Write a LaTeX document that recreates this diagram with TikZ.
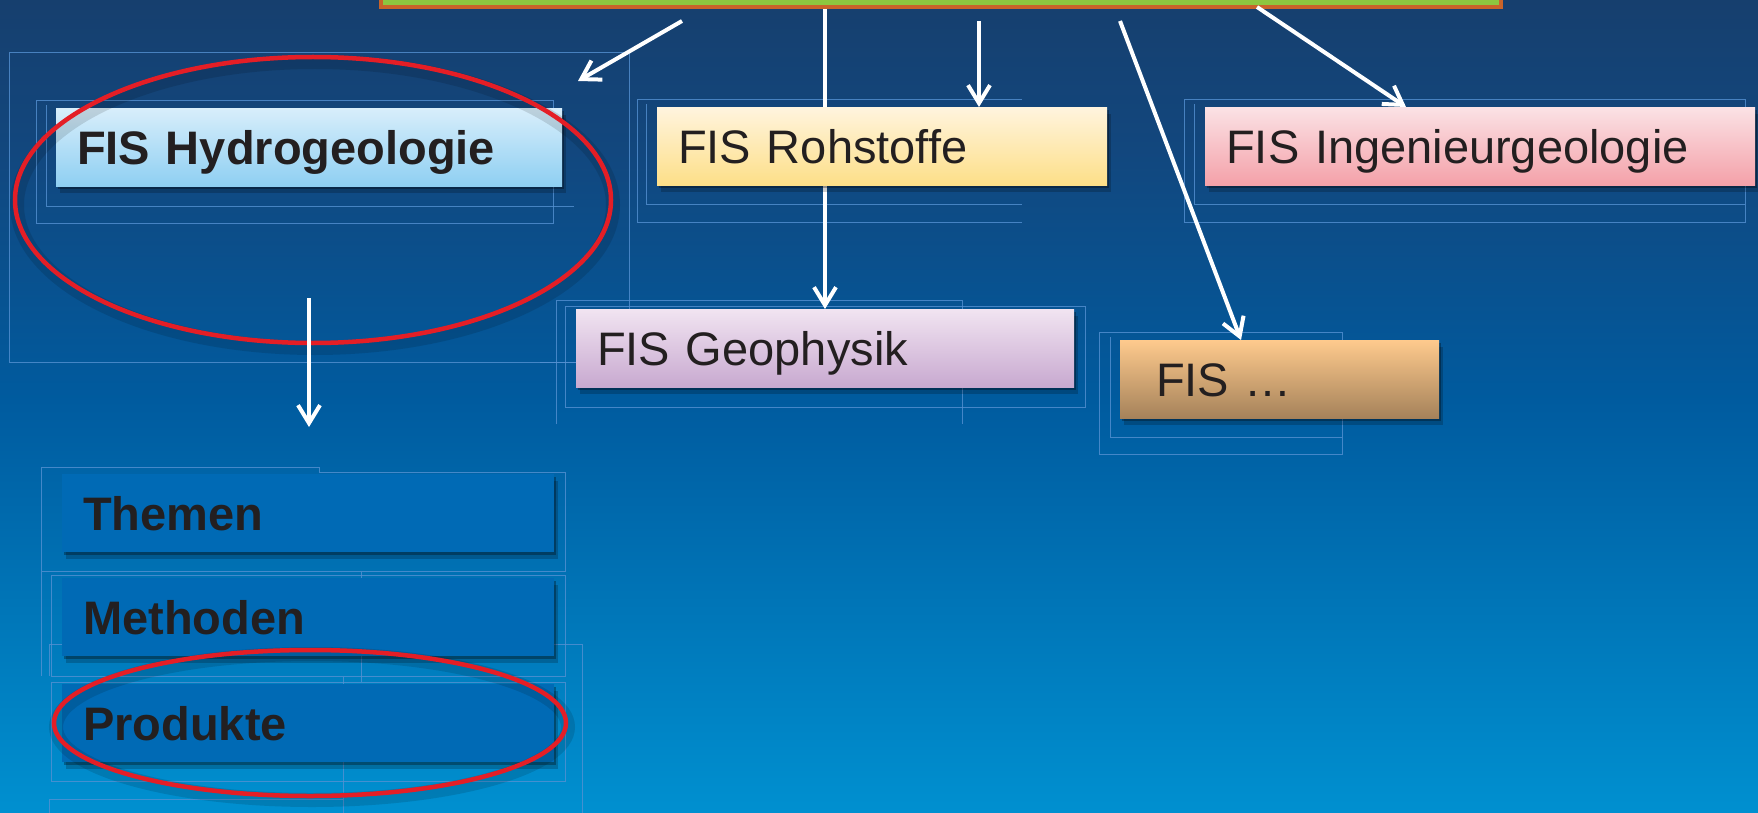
\documentclass[tikz,border=0pt]{standalone}
\usepackage{fontspec}
\setmainfont{Liberation Sans}
\usetikzlibrary{arrows.meta,shapes.geometric,shadows}
\definecolor{bgA}{HTML}{163F6E}
\definecolor{bgB}{HTML}{12477E}
\definecolor{bgC}{HTML}{005B9F}
\definecolor{bgD}{HTML}{0090D0}
\definecolor{guide}{RGB}{85,145,210}
\definecolor{txt}{HTML}{231F20}
\definecolor{hlred}{HTML}{E41E26}
\definecolor{topgreen}{HTML}{8DC63F}
\definecolor{toporange}{HTML}{C8632A}
\definecolor{hyA}{HTML}{D8EEFB}\definecolor{hyB}{HTML}{8ECFF2}
\definecolor{roA}{HTML}{FFF4DE}\definecolor{roB}{HTML}{FDDF88}
\definecolor{inA}{HTML}{FBE2E5}\definecolor{inB}{HTML}{F4A1A9}
\definecolor{geA}{HTML}{F1E4F1}\definecolor{geB}{HTML}{C8A9D0}
\definecolor{etA}{HTML}{FECA8D}\definecolor{etB}{HTML}{A5825A}
\definecolor{subbox}{HTML}{006AB5}
\begin{document}
\begin{tikzpicture}[x=1pt,y=-1pt,
  guideline/.style={draw=guide,line width=0.8pt,opacity=.8},
  boxshadow/.style={general shadow={shadow xshift=2pt,shadow yshift=-3pt,fill=black,opacity=.3},
                    general shadow={shadow xshift=4pt,shadow yshift=-7pt,fill=black,opacity=.2}},
  fisbox/.style={rectangle,anchor=north west,minimum height=78pt,inner xsep=21pt,
                 text height=34pt,text depth=0pt,align=left,text=txt,
                 font=\fontsize{47}{56}\selectfont,boxshadow},
  boldbox/.style={fisbox,font=\fontsize{47}{56}\selectfont\bfseries},
  arr/.style={draw=white,line width=4pt,-{Straight Barb[length=18pt,width=22pt]}},
  hl/.style={ellipse,draw=hlred,line width=4.5pt,inner sep=0pt},
  hlshadow/.style={black,opacity=.12,line width=14pt},
  topbox/.style={rectangle,draw=toporange,fill=topgreen,line width=4pt,anchor=south west}
]
\useasboundingbox (0,0) rectangle (1758,813);
% background
\fill[top color=bgA,bottom color=bgB] (0,0) rectangle (1758,151);
\fill[top color=bgB,bottom color=bgC] (0,150) rectangle (1758,401);
\fill[top color=bgC,bottom color=bgD] (0,400) rectangle (1758,813);
% faint guide frames
\draw[guideline] (9,52) rectangle (629,362);
\draw[guideline] (36,100) rectangle (553,223);
\draw[guideline] (46,105) -- (46,206) -- (574,206);
\draw[guideline] (1022,99) -- (637,99) -- (637,222) -- (1022,222);
\draw[guideline] (646,104) -- (646,204) -- (1022,204);
\draw[guideline] (556,424) -- (556,300) -- (962,300) -- (962,424);
\draw[guideline] (565,306) rectangle (1085,407);
\draw[guideline] (540,362) -- (598,362);
\draw[guideline] (1099,332) rectangle (1342,454);
\draw[guideline] (1110,337) -- (1110,437) -- (1342,437);
\draw[guideline] (1184,99) rectangle (1745,222);
\draw[guideline] (1194,104) -- (1194,204) -- (1745,204);
\draw[guideline] (41,676) -- (41,467) -- (319,467) -- (319,472) -- (565,472) -- (565,571) -- (41,571);
\draw[guideline] (51,575) rectangle (565,676);
\draw[guideline] (361,572) -- (361,682);
\draw[guideline] (49,676) -- (49,644) -- (582,644) -- (582,813);
\draw[guideline] (51,682) rectangle (565,781);
\draw[guideline] (343,677) -- (343,813);
\draw[guideline] (49,813) -- (49,799) -- (343,799);
% top box
\node[topbox,minimum width=1120pt,minimum height=40pt] (top) at (379,9) {};
% arrow passing behind Rohstoffe
\coordinate (s2) at (825,9);
\coordinate (e2) at (825,309);
\draw[arr] (s2) -- (e2);
% boxes
\node[boldbox,top color=hyA,bottom color=hyB,text width=464pt] (hydro) at (56,108) {FIS Hydrogeologie};
\node[fisbox,top color=roA,bottom color=roB,text width=408pt] (roh) at (657,107) {FIS Rohstoffe};
\node[fisbox,top color=inA,bottom color=inB,text width=508pt] (ing) at (1205,107) {FIS Ingenieurgeologie};
\node[fisbox,top color=geA,bottom color=geB,text width=456pt] (geo) at (576,309) {FIS Geophysik};
\node[fisbox,top color=etA,bottom color=etB,text width=277pt] (etc) at (1120,340) {\hspace*{15pt}FIS …};
\node[boldbox,fill=subbox,text width=450pt] (themen) at (62,474) {Themen};
\node[boldbox,fill=subbox,text width=450pt] (methoden) at (62,578) {Methoden};
\node[boldbox,fill=subbox,text width=450pt] (produkte) at (62,684) {Produkte};
% highlight ellipses
\draw[hlshadow] (315,205) ellipse [x radius=298pt,y radius=143pt];
\draw[hlshadow] (312,727) ellipse [x radius=256pt,y radius=73pt];
\node[hl,minimum width=596pt,minimum height=286pt] (hl1) at (313,200) {};
\node[hl,minimum width=512pt,minimum height=146pt] (hl2) at (310,723) {};
% arrows
\coordinate (s1) at (682,21);
\coordinate (e1) at (578,81);
\coordinate (s3) at (979,21);
\coordinate (s4) at (1120,21);
\coordinate (s5) at (1257,7);
\coordinate (s6) at (309,298);
\coordinate (e6) at (309,427);
\draw[arr] (s1) -- (e1);
\draw[arr] (s3) -- (s3 |- roh.north);
\draw[arr] (s4) -- ([xshift=121pt]etc.north west);
\draw[arr] (s5) -- ([xshift=201pt]ing.north west);
\draw[arr] (s6) -- (e6);
\end{tikzpicture}
\end{document}
